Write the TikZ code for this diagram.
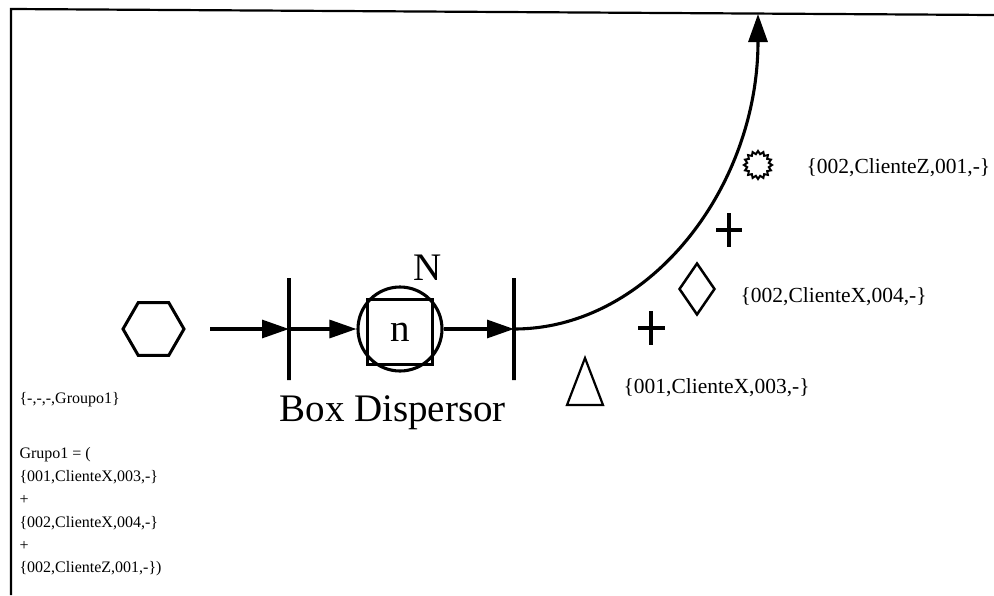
\documentclass[tikz,border=0pt]{standalone}
\usepackage{fontspec}
\setmainfont{Liberation Serif}
\usetikzlibrary{arrows.meta, positioning, shapes.geometric}
\tikzset{
  every picture/.style={x=1pt, y=-1pt, line width=3.1pt},
  flow/.style={-{Triangle[length=27pt, width=18pt]}, line width=3.1pt},
  bar/.style={draw, minimum width=0pt, minimum height=102pt, inner sep=0pt, line width=3.1pt},
  note/.style={font=\fontsize{16}{22.8}\selectfont, align=left, anchor=west, inner sep=0pt},
  tag/.style={font=\fontsize{21.5}{24}\selectfont, anchor=west, inner sep=0pt},
  big/.style={font=\fontsize{39}{42}\selectfont, inner sep=0pt},
  plusmark/.style={line width=4.8pt},
  shapebox/.style={draw, inner sep=0pt, line width=2.5pt},
}
\begin{document}
\begin{tikzpicture}
  \useasboundingbox (0,0) rectangle (994,595);
  % frame
  \draw[line width=2.2pt] (11,595) -- (11,9) -- (994,15);
  % input group
  \node[regular polygon, regular polygon sides=6, minimum size=61pt, shapebox, line width=3pt] (hex) at (153.5,329) {};
  \node[note] (grp) at (18,400) {\{-,-,-,Groupo1\}};
  \node[note] (def) at (18,512) {Grupo1 = (\\\{001,ClienteX,003,-\}\\+\\\{002,ClienteX,004,-\}\\+\\\{002,ClienteZ,001,-\})};
  % dispersor
  \node[bar] (bar1) at (289,329) {};
  \node[circle, draw, minimum size=84pt, inner sep=0pt] (disp) at (400,329) {};
  \node[draw, minimum size=65pt, big] (n) at (400,332) {n};
  \node[big] (N) at (428,268) {N};
  \node[bar] (bar2) at (514,329) {};
  \node[big, anchor=west] (title) at (278,413) {Box Dispersor};
  \coordinate (start) at (210,329);
  \coordinate (top) at (758,14);
  \draw[flow] (start) -- (bar1.center);
  \draw[flow] (bar1.center) -- (disp.west);
  \draw[flow] (disp.east) -- (bar2.center);
  \draw[-{Triangle[length=28pt, width=19pt]}] (bar2.center) .. controls (649,329) and (758,188) .. (top);
  % output items
  \draw[line width=2.2pt] (567,405) -- (585,358) -- (603,405) -- cycle;
  \node[tag] (t3) at (622,388) {\{001,ClienteX,003,-\}};
  \draw[plusmark] (651,311) -- (651,345) (638,328) -- (665,328);
  \node[diamond, shapebox, minimum width=36pt, minimum height=52pt] (dia) at (697,289) {};
  \node[tag] (t4) at (739,297) {\{002,ClienteX,004,-\}};
  \draw[plusmark] (729,213) -- (729,247) (716,230) -- (742,230);
  \node[star, star points=16, star point ratio=1.27, minimum size=28pt, shapebox, line width=2pt] (sun) at (758,165) {};
  \node[tag] (t1) at (805,168) {\{002,ClienteZ,001,-\}};
\end{tikzpicture}
\end{document}
